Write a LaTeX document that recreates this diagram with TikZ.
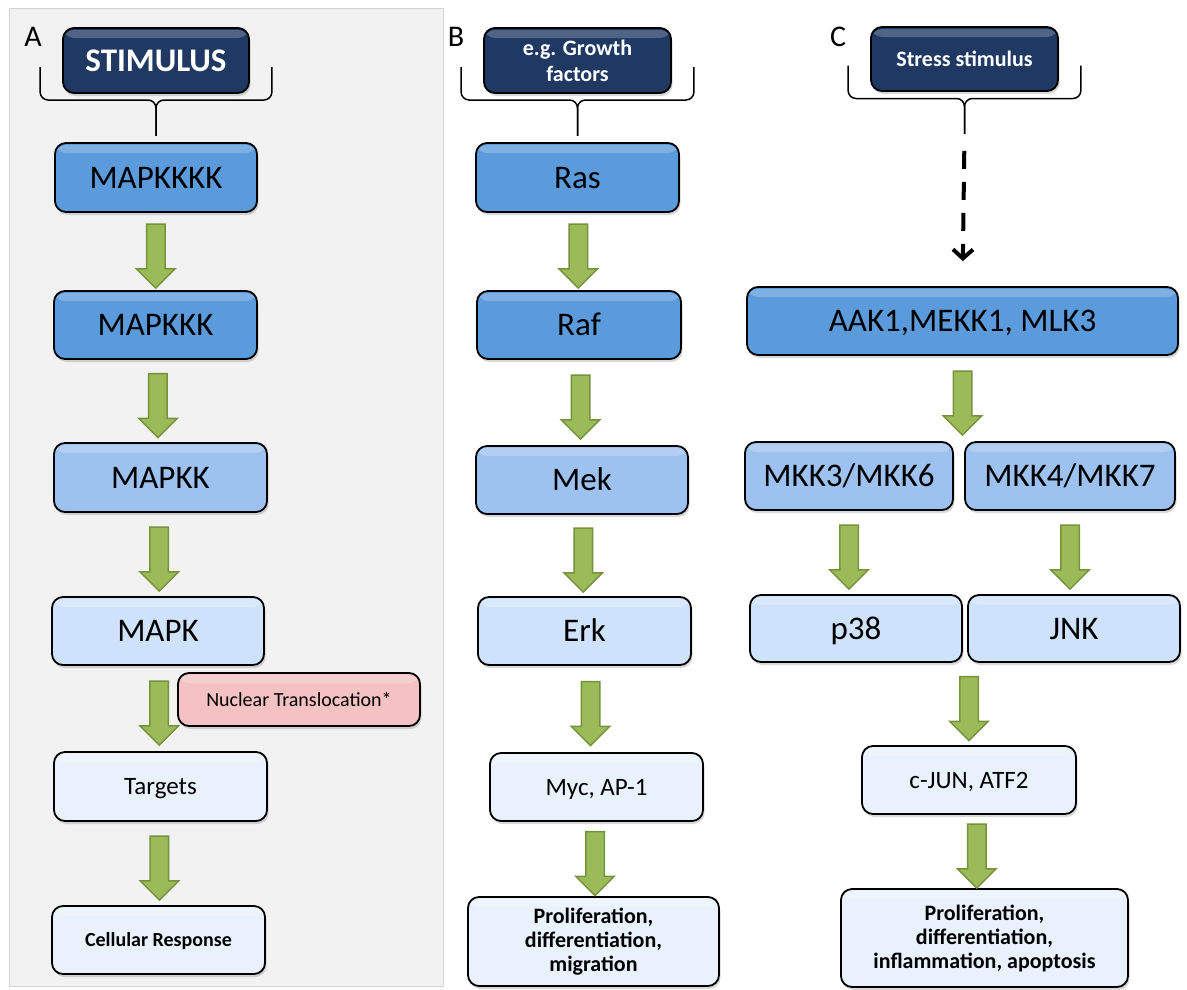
\documentclass[tikz,border=0pt]{standalone}
\usepackage{fontspec}
\setmainfont{Carlito}
\usetikzlibrary{arrows.meta,positioning,calc,shapes.arrows,shadows}
\definecolor{navy}{RGB}{31,57,99}
\definecolor{kinase1}{RGB}{91,155,220}
\definecolor{kinase2}{RGB}{157,194,240}
\definecolor{kinase3}{RGB}{207,226,251}
\definecolor{target}{RGB}{233,242,252}
\definecolor{nucpink}{RGB}{244,194,194}
\definecolor{flowgreen}{RGB}{155,187,89}
\definecolor{flowedge}{RGB}{118,146,60}
\definecolor{panelgray}{RGB}{242,242,242}
\definecolor{panelline}{RGB}{212,212,212}

% brace under a stimulus box, ends in (<name>-tip)
\newcommand{\stimbrace}[1]{%
  \draw[bracket] ([xshift=-22pt,yshift=-6.5pt]#1.west) -- ++(0,-33) -| ($(#1.south)+(0,-42)$);
  \draw[bracket] ([xshift=22pt,yshift=-6.5pt]#1.east) -- ++(0,-33) -| ($(#1.south)+(0,-42)$);
  \coordinate (#1-tip) at ($(#1.south)+(0,-42)$);}

\begin{document}
\begin{tikzpicture}[x=1pt, y=1pt,
  box/.style={draw=black, line width=1.8pt, rounded corners=11pt, align=center,
    inner sep=0pt, minimum width=212pt, minimum height=68pt,
    drop shadow={opacity=.3, shadow xshift=1.5pt, shadow yshift=-3pt},
    path picture={\fill[white, opacity=.22] ([yshift=-2pt]path picture bounding box.north west)
      rectangle ([yshift=-10pt]path picture bounding box.north east);}},
  big/.style={font=\fontsize{33}{38}\selectfont, text height=21pt, text depth=0pt},
  mid/.style={font=\fontsize{25}{29}\selectfont, text height=16pt, text depth=0pt},
  boldlines/.style={font=\fontsize{22}{24}\selectfont\bfseries},
  stim/.style={box, fill=navy, text=white, font=\fontsize{22}{26}\selectfont\bfseries,
    minimum width=187pt, minimum height=65pt},
  kin1/.style={box, big, fill=kinase1},
  kin2/.style={box, big, fill=kinase2},
  kin3/.style={box, big, fill=kinase3},
  tgt/.style={box, fill=target},
  nuc/.style={box, fill=nucpink, font=\fontsize{20}{24}\selectfont, text height=13pt, text depth=0pt,
    minimum width=242pt, minimum height=53pt},
  flow/.style={single arrow, rotate=-90, draw=flowedge, fill=flowgreen, line width=1.5pt,
    inner sep=0pt, inner ysep=8.5pt, minimum height=64pt,
    single arrow head extend=10pt, single arrow tip angle=90},
  bracket/.style={draw=black, line width=1.5pt, rounded corners=8pt},
  dasharrow/.style={line width=4pt, dash pattern=on 18pt off 13pt,
    -{Straight Barb[length=9pt, width=20pt]}},
  panel/.style={font=\fontsize{30}{34}\selectfont}
]
\useasboundingbox (0,0) rectangle (1187,-989);
\fill[white] (0,0) rectangle (1187,-989);
\fill[panelgray, draw=panelline, line width=1pt] (9,-8) rectangle (443,-986);

% A: generic cascade
\node[panel] (labA) at (33,-37) {A};
\node[stim, font=\fontsize{33}{38}\selectfont\bfseries, text height=21pt, text depth=0pt,
  minimum width=186pt] (stimA) at (156,-60.5) {STIMULUS};
\node[kin1, minimum width=202pt, minimum height=69pt] (mapkkkk) at (156,-177.5) {MAPKKKK};
\node[kin1, minimum width=203pt] (mapkkk) at (155.5,-325) {MAPKKK};
\node[kin2, minimum width=213pt, minimum height=69pt] (mapkk) at (160.5,-477.5) {MAPKK};
\node[kin3] (mapk) at (158,-631) {MAPK};
\node[tgt, mid, minimum width=213pt, minimum height=69pt] (targets) at (160.5,-786.5) {Targets};
\node[tgt, font=\fontsize{20}{24}\selectfont\bfseries, text height=12.8pt, text depth=0pt,
  minimum width=213pt] (cellresp) at (158.5,-940) {Cellular Response};
\stimbrace{stimA}
\path (mapkkkk) -- node[flow] (fa1) {} (mapkkk);
\path (mapkkk) -- node[flow] (fa2) {} (mapkk);
\path (mapkk) -- node[flow] (fa3) {} (mapk);
\path (mapk) -- node[flow] (fa4) {} (targets);
\path (targets) -- node[flow] (fa5) {} (cellresp);
\node[nuc] (nuclear) at (299,-699.5) {Nuclear Translocation*};

% B: growth factor pathway
\node[panel] (labB) at (456,-37) {B};
\node[stim] (stimB) at (577.5,-60.5) {e.g. Growth\\factors};
\node[kin1, minimum width=203pt, minimum height=69pt] (ras) at (577.5,-177.5) {Ras};
\node[kin1, minimum width=204pt] (raf) at (579,-325) {Raf};
\node[kin2] (mek) at (582,-480) {Mek};
\node[kin3, minimum width=213pt] (erk) at (584.5,-631) {Erk};
\node[tgt, mid, minimum width=213pt] (myc) at (596.5,-787) {Myc, AP-1};
\node[tgt, boldlines, minimum width=251pt, minimum height=89pt] (prolB) at (593.5,-941.5)
  {Proliferation,\\differentiation,\\migration};
\stimbrace{stimB}
\path (ras) -- node[flow] (fb1) {} (raf);
\path (raf) -- node[flow] (fb2) {} (mek);
\path (mek) -- node[flow] (fb3) {} (erk);
\path (erk.south) -- node[flow] (fb4) {} (myc.north);
\path (myc.south) -- node[flow] (fb5) {} (prolB.north);

% C: stress pathway
\node[panel] (labC) at (838,-37) {C};
\node[stim, minimum height=64pt] (stimC) at (964.5,-59) {Stress stimulus};
\node[kin1, minimum width=431pt] (aak) at (962.5,-321) {AAK1,MEKK1, MLK3};
\node[kin2, minimum width=208pt] (mkk36) at (849,-476) {MKK3/MKK6};
\node[kin2, minimum width=210pt] (mkk47) at (1070,-476) {MKK4/MKK7};
\node[kin3, minimum height=67pt] (p38) at (856,-628.5) {p38};
\node[kin3, minimum height=67pt] (jnk) at (1074,-628.5) {JNK};
\node[tgt, mid, minimum width=214pt] (cjun) at (969,-780) {c-JUN, ATF2};
\node[tgt, boldlines, minimum width=287pt, minimum height=98pt] (prolC) at (984.5,-938)
  {Proliferation,\\differentiation,\\inflammation, apoptosis};
\stimbrace{stimC}
\draw[dasharrow, shorten <=17pt, shorten >=25pt] (stimC-tip) -- (aak.north);
\path (aak.south) -- node[flow] (fc1) {} (aak.south |- mkk36.north);
\path (mkk36.south) -- node[flow] (fc2) {} (mkk36.south |- p38.north);
\path (mkk47.south) -- node[flow] (fc3) {} (mkk47.south |- jnk.north);
\path (cjun.north |- p38.south) -- node[flow] (fc4) {} (cjun.north);
\path (cjun.south) -- node[flow] (fc5) {} (prolC.north);
\end{tikzpicture}
\end{document}
